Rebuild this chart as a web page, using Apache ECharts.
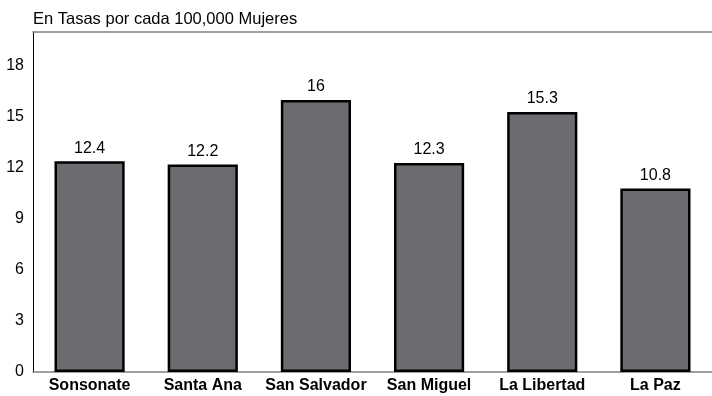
<!DOCTYPE html>
<html>
<head>
<meta charset="utf-8">
<script src="https://cdn.jsdelivr.net/npm/echarts@6/dist/echarts.min.js"></script>
<style>html,body{margin:0;padding:0;background:#fff}#c{width:712px;height:396px}</style>
</head>
<body>
<div id="c"></div>
<script>
const categories = ['Sonsonate', 'Santa Ana', 'San Salvador', 'San Miguel', 'La Libertad', 'La Paz'];
const values = [12.4, 12.2, 16, 12.3, 15.3, 10.8];
const titleText = 'En Tasas por cada 100,000 Mujeres';

const FF = 'Liberation Sans, Arial, sans-serif';
const chart = echarts.init(document.getElementById('c'), null, {renderer: 'canvas'});
chart.setOption({
  animation: false,
  backgroundColor: '#fff',
  textStyle: {fontFamily: FF},
  title: {
    text: titleText, left: 28, top: 6,
    textStyle: {fontSize: 16.5, fontWeight: 'normal', color: '#000', fontFamily: FF}
  },
  grid: {left: 33, right: 0, top: 32, bottom: 24, containLabel: false},
  xAxis: [{
    type: 'category', data: categories, position: 'bottom',
    axisLine: {lineStyle: {color: '#808080', width: 1.5}},
    axisTick: {show: false},
    axisLabel: {color: '#000', fontSize: 16, fontWeight: 'bold', margin: 6, interval: 0, fontFamily: FF}
  }, {
    type: 'category', data: categories, position: 'top',
    axisLine: {lineStyle: {color: '#808080', width: 1.5}},
    axisTick: {show: false}, axisLabel: {show: false}
  }],
  yAxis: {
    type: 'value', min: 0, max: 20, interval: 3,
    axisLine: {show: true, lineStyle: {color: '#000', width: 1}},
    axisTick: {show: false},
    splitLine: {show: false},
    axisLabel: {color: '#000', fontSize: 16, margin: 9, showMaxLabel: false, fontFamily: FF}
  },
  series: [{
    type: 'bar', data: values, barWidth: '62%', xAxisIndex: 0,
    itemStyle: {color: '#6b6c70', borderColor: '#000', borderWidth: 2.5},
    label: {show: true, position: 'top', color: '#000', fontSize: 16, distance: 5, fontFamily: FF}
  }]
});
</script>
</body>
</html>
